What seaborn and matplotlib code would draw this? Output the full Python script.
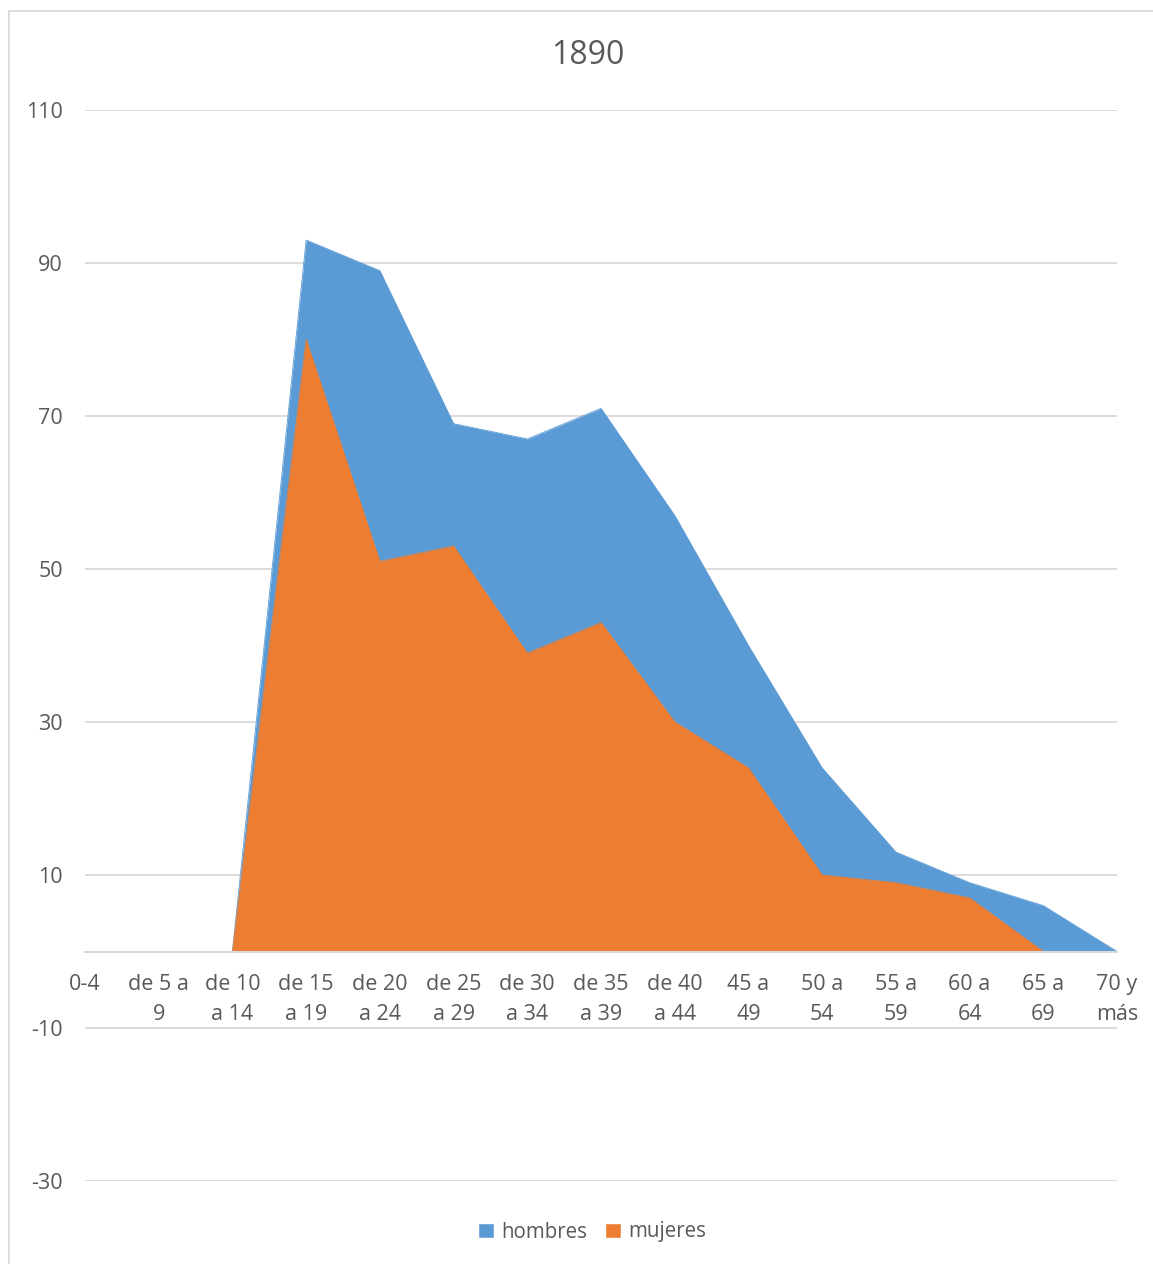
import matplotlib
matplotlib.use("Agg")
import matplotlib.pyplot as plt
from matplotlib.patches import Patch, Rectangle
import seaborn as sns
import pandas as pd

# Age groups and counts per sex
grupos = ["0-4", "de 5 a\n9", "de 10\na 14", "de 15\na 19", "de 20\na 24", "de 25\na 29",
          "de 30\na 34", "de 35\na 39", "de 40\na 44", "45 a\n49", "50 a\n54", "55 a\n59",
          "60 a\n64", "65 a\n69", "70 y\nmás"]
hombres = [0, 0, 0, 93, 89, 69, 67, 71, 57, 40, 24, 13, 9, 6, 0]
mujeres = [0, 0, 0, 80, 51, 53, 39, 43, 30, 24, 10, 9, 7, 0, 0]
y_ticks = [-30, -10, 10, 30, 50, 70, 90, 110]

AZUL = "#5B9BD5"
NARANJA = "#ED7D31"
TEXTO = "#595959"
REJILLA = "#D9D9D9"

sns.set_theme(style="white")
plt.rcParams["font.family"] = ["Open Sans", "DejaVu Sans"]

df = pd.DataFrame({"pos": range(len(grupos)), "hombres": hombres, "mujeres": mujeres})

W, H = 1153, 1264
fig = plt.figure(figsize=(W / 100, H / 100), dpi=100)
ax = fig.add_axes([85 / W, 1 - 1181 / H, (1117 - 85) / W, (1181 - 110) / H])

# Overlapping areas: hombres behind, mujeres in front
for col, color in (("hombres", AZUL), ("mujeres", NARANJA)):
    ax.fill_between(df["pos"], 0, df[col], color=color, linewidth=0, zorder=2)
    sns.lineplot(data=df, x="pos", y=col, color=color, linewidth=0.6, ax=ax, zorder=2)

ax.set_xlim(0, len(grupos) - 1)
ax.set_ylim(-30, 110)
ax.set_yticks(y_ticks)
ax.set_yticklabels([str(v) for v in y_ticks])
ax.set_xticks(range(len(grupos)))
ax.set_xticklabels(grupos)
ax.set_xlabel("")
ax.set_ylabel("")

# Horizontal gridlines behind the areas; category axis crosses at zero
ax.grid(axis="y", color=REJILLA, linewidth=1.3, zorder=0)
ax.set_axisbelow(True)
for s in ("left", "right", "top"):
    ax.spines[s].set_visible(False)
ax.spines["bottom"].set_position(("data", 0))
ax.spines["bottom"].set_color(REJILLA)
ax.spines["bottom"].set_linewidth(1.5)
ax.spines["bottom"].set_zorder(3)

ax.tick_params(axis="y", length=0, pad=16, labelsize=15.5, labelcolor=TEXTO)
ax.tick_params(axis="x", length=0, pad=16, labelsize=15.5, labelcolor=TEXTO)
for lbl in ax.get_xticklabels():
    lbl.set_linespacing(1.6)

fig.text(588 / W, 1 - 55 / H, "1890", ha="center", va="center", fontsize=23, color=TEXTO)

handles = [Patch(facecolor=AZUL, label="hombres"), Patch(facecolor=NARANJA, label="mujeres")]
fig.legend(handles=handles, loc="center", bbox_to_anchor=(592 / W, 1 - 1232 / H), ncol=2,
           frameon=False, fontsize=14.8, labelcolor=TEXTO, handlelength=0.75, handleheight=0.75,
           handletextpad=0.35, columnspacing=0.9)

# Chart area border
fig.patches.append(Rectangle((8.5 / W, -0.1), 1.2, 1.1 - 11 / H, transform=fig.transFigure,
                             fill=False, edgecolor=REJILLA, linewidth=1.3))

fig.savefig("out.png", dpi=100, facecolor="white")
